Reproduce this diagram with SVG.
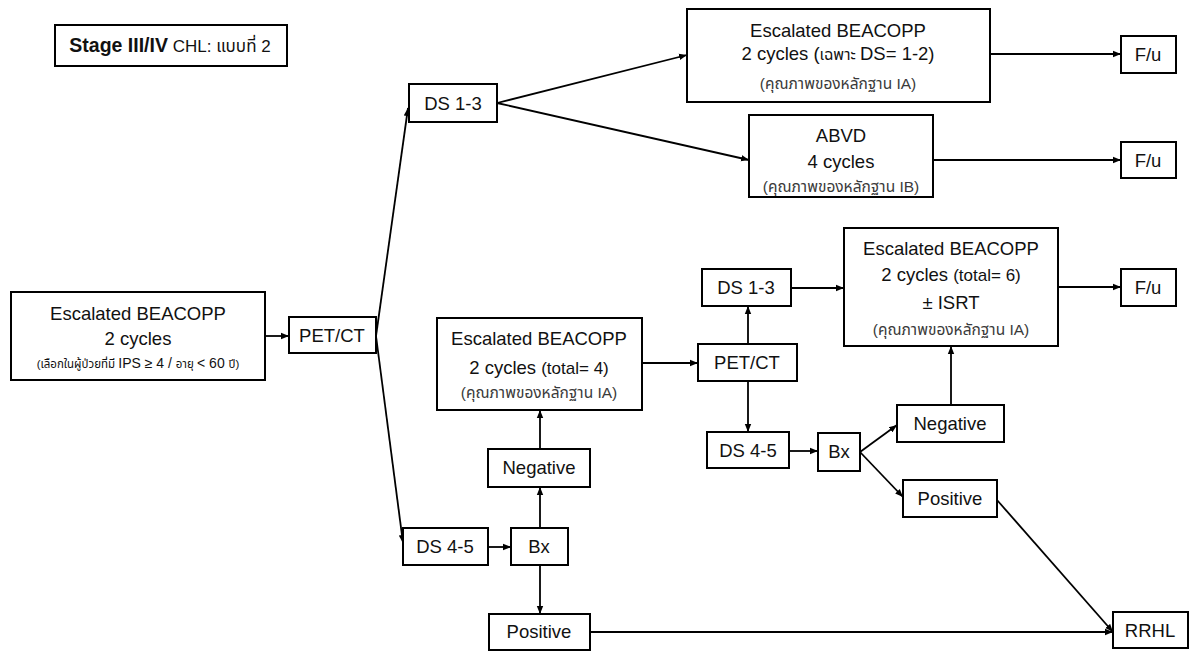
<svg xmlns="http://www.w3.org/2000/svg" width="1191" height="651" viewBox="0 0 1191 651">
  <style>
    .box { fill: #ffffff; stroke: #000000; stroke-width: 2; }
    .t { font-family: "Liberation Sans", "Noto Sans Thai", "Noto Sans", "DejaVu Sans", sans-serif; fill: #111111; text-anchor: middle; }
    .m { font-size: 18.5px; }
    .s { font-size: 17px; }
    .th { font-size: 15.5px; fill: #3a3a3a; }
    .ths { font-size: 11.5px; }
    .b { font-weight: bold; }
    .link { fill: none; stroke: #000000; stroke-width: 1.8; marker-end: url(#arrow); }
  </style>
  <defs>
    <marker id="arrow" markerUnits="userSpaceOnUse" markerWidth="8" markerHeight="8" refX="8" refY="4" orient="auto">
      <path d="M0,0.8 L8,4 L0,7.2 z" fill="#000000"/>
    </marker>
  </defs>
  <rect width="1191" height="651" fill="#ffffff"/>

  <!-- connectors -->
  <g id="connectors">
    <path class="link" d="M265,336 H289"/>
    <path class="link" d="M376,336 L408,108"/>
    <path class="link" d="M376,336 L403,543"/>
    <path class="link" d="M497,103 L687,55"/>
    <path class="link" d="M497,103 L749,160"/>
    <path class="link" d="M990,54 H1121"/>
    <path class="link" d="M933,160 H1121"/>
    <path class="link" d="M1058,287 H1121"/>
    <path class="link" d="M488,547 H511"/>
    <path class="link" d="M540,528 V487"/>
    <path class="link" d="M540,449 V410"/>
    <path class="link" d="M540,565 V614"/>
    <path class="link" d="M590,632 H1113"/>
    <path class="link" d="M642,363 H698"/>
    <path class="link" d="M748,344 V306"/>
    <path class="link" d="M748,381 V432"/>
    <path class="link" d="M791,288 H844"/>
    <path class="link" d="M789,451 H818"/>
    <path class="link" d="M860,452 L897,425"/>
    <path class="link" d="M860,452 L903,497"/>
    <path class="link" d="M951,405 V346"/>
    <path class="link" d="M997,500 L1113,632"/>
  </g>

  <!-- heading -->
  <g id="title">
    <rect class="box" x="55" y="25" width="232" height="41"/>
    <text class="t" x="170" y="52"><tspan class="b" font-size="19.5px">Stage III/IV</tspan><tspan font-size="17px"> CHL: แบบที่ 2</tspan></text>
  </g>

  <g id="start">
    <rect class="box" x="11" y="292" width="254" height="88"/>
    <text class="t m" x="138" y="320">Escalated BEACOPP</text>
    <text class="t m" x="138" y="345">2 cycles</text>
    <text class="t" x="138" y="368"><tspan class="ths">(เลือกในผู้ป่วยที่มี </tspan><tspan font-size="14px">IPS ≥ 4 / </tspan><tspan class="ths">อายุ </tspan><tspan font-size="14px">&lt; 60 </tspan><tspan class="ths">ปี)</tspan></text>
  </g>

  <g id="petct1">
    <rect class="box" x="289" y="317" width="87" height="36"/>
    <text class="t m" x="332" y="342">PET/CT</text>
  </g>

  <g id="ds13-first">
    <rect class="box" x="409" y="84" width="88" height="38"/>
    <text class="t m" x="453" y="110">DS 1-3</text>
  </g>

  <g id="ds45-first">
    <rect class="box" x="403" y="528" width="85" height="37"/>
    <text class="t m" x="445" y="553">DS 4-5</text>
  </g>

  <g id="beacopp-ds12">
    <rect class="box" x="687" y="9" width="303" height="93"/>
    <text class="t m" x="838" y="37">Escalated BEACOPP</text>
    <text class="t m" x="838" y="60">2 cycles (<tspan font-size="15.5px">เฉพาะ </tspan>DS= 1-2)</text>
    <text class="t th" x="838" y="89">(คุณภาพของหลักฐาน IA)</text>
  </g>

  <g id="abvd">
    <rect class="box" x="749" y="115" width="184" height="82"/>
    <text class="t m" x="841" y="142">ABVD</text>
    <text class="t m" x="841" y="168">4 cycles</text>
    <text class="t th" x="841" y="192">(คุณภาพของหลักฐาน IB)</text>
  </g>

  <g id="fu1">
    <rect class="box" x="1121" y="36" width="55" height="37"/>
    <text class="t m" x="1148" y="61">F/u</text>
  </g>
  <g id="fu2">
    <rect class="box" x="1121" y="142" width="55" height="36"/>
    <text class="t m" x="1148" y="167">F/u</text>
  </g>
  <g id="fu3">
    <rect class="box" x="1121" y="269" width="55" height="37"/>
    <text class="t m" x="1148" y="294">F/u</text>
  </g>

  <g id="bx1">
    <rect class="box" x="511" y="528" width="57" height="37"/>
    <text class="t m" x="539" y="553">Bx</text>
  </g>

  <g id="negative1">
    <rect class="box" x="488" y="449" width="102" height="38"/>
    <text class="t m" x="539" y="474">Negative</text>
  </g>

  <g id="positive1">
    <rect class="box" x="489" y="614" width="101" height="36"/>
    <text class="t m" x="539" y="638">Positive</text>
  </g>

  <g id="beacopp-total4">
    <rect class="box" x="437" y="318" width="205" height="92"/>
    <text class="t m" x="539" y="345">Escalated BEACOPP</text>
    <text class="t m" x="539" y="374">2 cycles <tspan class="s">(total= 4)</tspan></text>
    <text class="t th" x="539" y="398">(คุณภาพของหลักฐาน IA)</text>
  </g>

  <g id="petct2">
    <rect class="box" x="698" y="344" width="99" height="37"/>
    <text class="t m" x="747" y="369">PET/CT</text>
  </g>

  <g id="ds13-second">
    <rect class="box" x="702" y="269" width="89" height="37"/>
    <text class="t m" x="746" y="294">DS 1-3</text>
  </g>

  <g id="ds45-second">
    <rect class="box" x="707" y="432" width="82" height="36"/>
    <text class="t m" x="748" y="457">DS 4-5</text>
  </g>

  <g id="bx2">
    <rect class="box" x="818" y="433" width="42" height="38"/>
    <text class="t m" x="839" y="458">Bx</text>
  </g>

  <g id="negative2">
    <rect class="box" x="897" y="405" width="107" height="37"/>
    <text class="t m" x="950" y="430">Negative</text>
  </g>

  <g id="positive2">
    <rect class="box" x="903" y="480" width="94" height="37"/>
    <text class="t m" x="950" y="505">Positive</text>
  </g>

  <g id="beacopp-total6">
    <rect class="box" x="844" y="228" width="214" height="118"/>
    <text class="t m" x="951" y="255">Escalated BEACOPP</text>
    <text class="t m" x="951" y="281">2 cycles <tspan class="s">(total= 6)</tspan></text>
    <text class="t m" x="951" y="309">± ISRT</text>
    <text class="t th" x="951" y="335">(คุณภาพของหลักฐาน IA)</text>
  </g>

  <g id="rrhl">
    <rect class="box" x="1113" y="612" width="75" height="36"/>
    <text class="t m" x="1150" y="637">RRHL</text>
  </g>
</svg>
